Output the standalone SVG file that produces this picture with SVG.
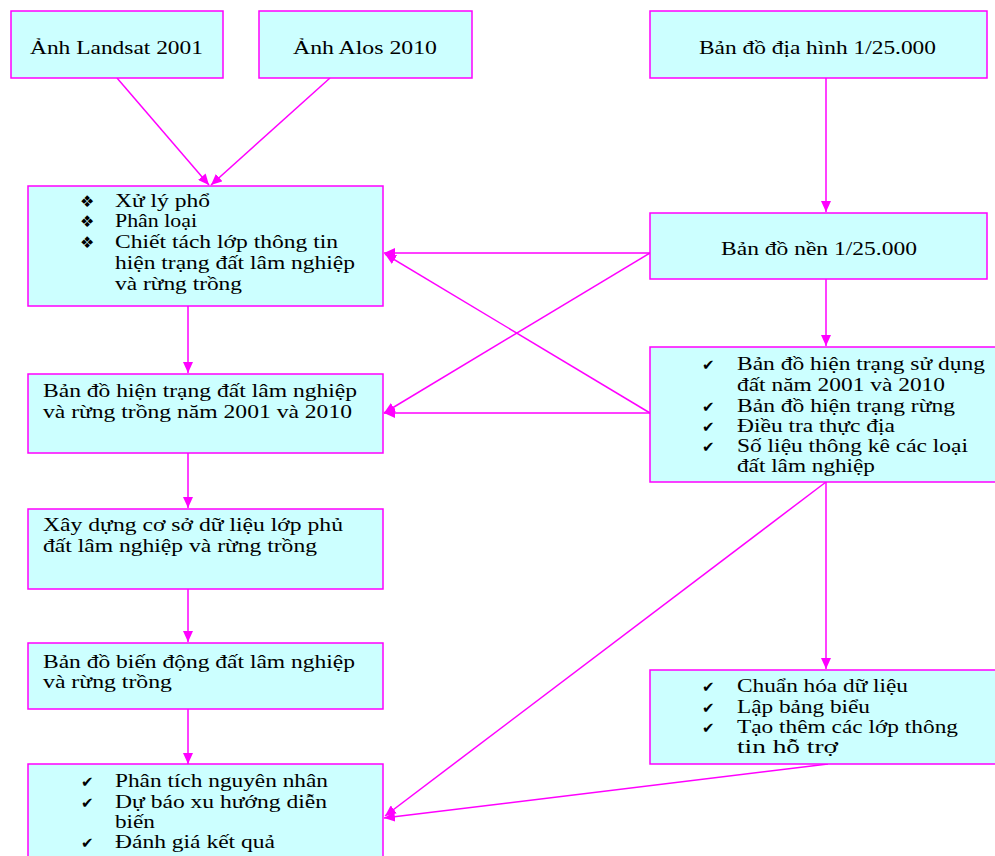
<svg xmlns="http://www.w3.org/2000/svg" width="995" height="856" viewBox="0 0 995 856">
<style>
.box{fill:#CCFFFF;stroke:#FF00FF;stroke-width:1.5}
.t{font-family:"Liberation Serif","Times New Roman",serif;font-size:18px;fill:#000}
.b{font-family:"DejaVu Sans",sans-serif;font-size:16px;fill:#000}
.k{font-family:"DejaVu Sans",sans-serif;font-size:15px;fill:#000}
.c line{stroke:#FF00FF;stroke-width:1.5;fill:none}
</style>
<defs>
<marker id="ah" markerUnits="userSpaceOnUse" markerWidth="12" markerHeight="10" refX="11" refY="5" orient="auto">
<path d="M0,0 L11,5 L0,10 z" fill="#FF00FF"/>
</marker>
</defs>
<rect width="995" height="856" fill="#fff"/>
<g class="c">
<line x1="117" y1="78" x2="209" y2="185" marker-end="url(#ah)"/>
<line x1="330" y1="78" x2="211" y2="185" marker-end="url(#ah)"/>
<line x1="826" y1="78" x2="826" y2="212" marker-end="url(#ah)"/>
<line x1="650" y1="253" x2="384" y2="253" marker-end="url(#ah)"/>
<line x1="650" y1="253" x2="384" y2="413" marker-end="url(#ah)"/>
<line x1="650" y1="413" x2="384" y2="413" marker-end="url(#ah)"/>
<line x1="650" y1="413" x2="385" y2="254" marker-end="url(#ah)"/>
<line x1="188" y1="306" x2="188" y2="373" marker-end="url(#ah)"/>
<line x1="826" y1="279" x2="826" y2="346" marker-end="url(#ah)"/>
<line x1="188" y1="453" x2="188" y2="508" marker-end="url(#ah)"/>
<line x1="188" y1="589" x2="188" y2="642" marker-end="url(#ah)"/>
<line x1="188" y1="709" x2="188" y2="764" marker-end="url(#ah)"/>
<line x1="826" y1="482" x2="826" y2="669" marker-end="url(#ah)"/>
<line x1="826" y1="482" x2="385" y2="816" marker-end="url(#ah)"/>
<line x1="828" y1="764" x2="384" y2="818" marker-end="url(#ah)"/>
</g>
<g id="n1"><rect class="box" x="11" y="11" width="212" height="67"/>
<text class="t" x="30" y="54" textLength="173" lengthAdjust="spacingAndGlyphs">Ảnh Landsat 2001</text></g>
<g id="n2"><rect class="box" x="259" y="11" width="213" height="67"/>
<text class="t" x="293" y="54" textLength="144" lengthAdjust="spacingAndGlyphs">Ảnh Alos 2010</text></g>
<g id="n3"><rect class="box" x="650" y="11" width="337" height="67"/>
<text class="t" x="699" y="54" textLength="237" lengthAdjust="spacingAndGlyphs">Bản đồ địa hình 1/25.000</text></g>
<g id="n4"><rect class="box" x="28" y="186" width="355" height="120"/>
<text class="b" x="80" y="207">❖</text>
<text class="b" x="80" y="227">❖</text>
<text class="b" x="80" y="248">❖</text>
<text class="t" x="115" y="207" textLength="95" lengthAdjust="spacingAndGlyphs">Xử lý phổ</text>
<text class="t" x="115" y="227" textLength="82" lengthAdjust="spacingAndGlyphs">Phân loại</text>
<text class="t" x="115" y="248" textLength="223" lengthAdjust="spacingAndGlyphs">Chiết tách lớp thông tin</text>
<text class="t" x="115" y="269" textLength="240" lengthAdjust="spacingAndGlyphs">hiện trạng đất lâm nghiệp</text>
<text class="t" x="115" y="290" textLength="127" lengthAdjust="spacingAndGlyphs">và rừng trồng</text></g>
<g id="n5"><rect class="box" x="650" y="213" width="337" height="66"/>
<text class="t" x="721" y="255" textLength="196" lengthAdjust="spacingAndGlyphs">Bản đồ nền 1/25.000</text></g>
<g id="n6"><rect class="box" x="28" y="374" width="355" height="79"/>
<text class="t" x="43" y="397" textLength="314" lengthAdjust="spacingAndGlyphs">Bản đồ hiện trạng đất lâm nghiệp</text>
<text class="t" x="43" y="418" textLength="309" lengthAdjust="spacingAndGlyphs">và rừng trồng năm 2001 và 2010</text></g>
<g id="n7"><rect class="box" x="650" y="347" width="350" height="135"/>
<text class="k" x="702" y="370">✔</text>
<text class="k" x="702" y="412">✔</text>
<text class="k" x="702" y="432">✔</text>
<text class="k" x="702" y="452">✔</text>
<text class="t" x="737" y="370" textLength="248" lengthAdjust="spacingAndGlyphs">Bản đồ hiện trạng sử dụng</text>
<text class="t" x="737" y="391" textLength="208" lengthAdjust="spacingAndGlyphs">đất năm 2001 và 2010</text>
<text class="t" x="737" y="412" textLength="218" lengthAdjust="spacingAndGlyphs">Bản đồ hiện trạng rừng</text>
<text class="t" x="737" y="432" textLength="158" lengthAdjust="spacingAndGlyphs">Điều tra thực địa</text>
<text class="t" x="737" y="452" textLength="231" lengthAdjust="spacingAndGlyphs">Số liệu thông kê các loại</text>
<text class="t" x="737" y="472" textLength="138" lengthAdjust="spacingAndGlyphs">đất lâm nghiệp</text></g>
<g id="n8"><rect class="box" x="28" y="509" width="355" height="80"/>
<text class="t" x="43" y="531" textLength="300" lengthAdjust="spacingAndGlyphs">Xây dựng cơ sở dữ liệu lớp phủ</text>
<text class="t" x="43" y="552" textLength="274" lengthAdjust="spacingAndGlyphs">đất lâm nghiệp và rừng trồng</text></g>
<g id="n9"><rect class="box" x="28" y="643" width="355" height="66"/>
<text class="t" x="43" y="668" textLength="312" lengthAdjust="spacingAndGlyphs">Bản đồ biến động đất lâm nghiệp</text>
<text class="t" x="43" y="688" textLength="129" lengthAdjust="spacingAndGlyphs">và rừng trồng</text></g>
<g id="n10"><rect class="box" x="650" y="670" width="350" height="94"/>
<text class="k" x="702" y="692">✔</text>
<text class="k" x="702" y="713">✔</text>
<text class="k" x="702" y="733">✔</text>
<text class="t" x="737" y="692" textLength="171" lengthAdjust="spacingAndGlyphs">Chuẩn hóa dữ liệu</text>
<text class="t" x="737" y="713" textLength="133" lengthAdjust="spacingAndGlyphs">Lập bảng biểu</text>
<text class="t" x="737" y="733" textLength="221" lengthAdjust="spacingAndGlyphs">Tạo thêm các lớp thông</text>
<text class="t" x="737" y="753" textLength="101" lengthAdjust="spacingAndGlyphs">tin hỗ trợ</text></g>
<g id="n11"><rect class="box" x="28" y="764" width="355" height="100"/>
<text class="k" x="81" y="787">✔</text>
<text class="k" x="81" y="808">✔</text>
<text class="k" x="81" y="848">✔</text>
<text class="t" x="115" y="787" textLength="213" lengthAdjust="spacingAndGlyphs">Phân tích nguyên nhân</text>
<text class="t" x="115" y="808" textLength="212" lengthAdjust="spacingAndGlyphs">Dự báo xu hướng diễn</text>
<text class="t" x="115" y="828" textLength="40" lengthAdjust="spacingAndGlyphs">biến</text>
<text class="t" x="115" y="848" textLength="160" lengthAdjust="spacingAndGlyphs">Đánh giá kết quả</text></g>
</svg>
